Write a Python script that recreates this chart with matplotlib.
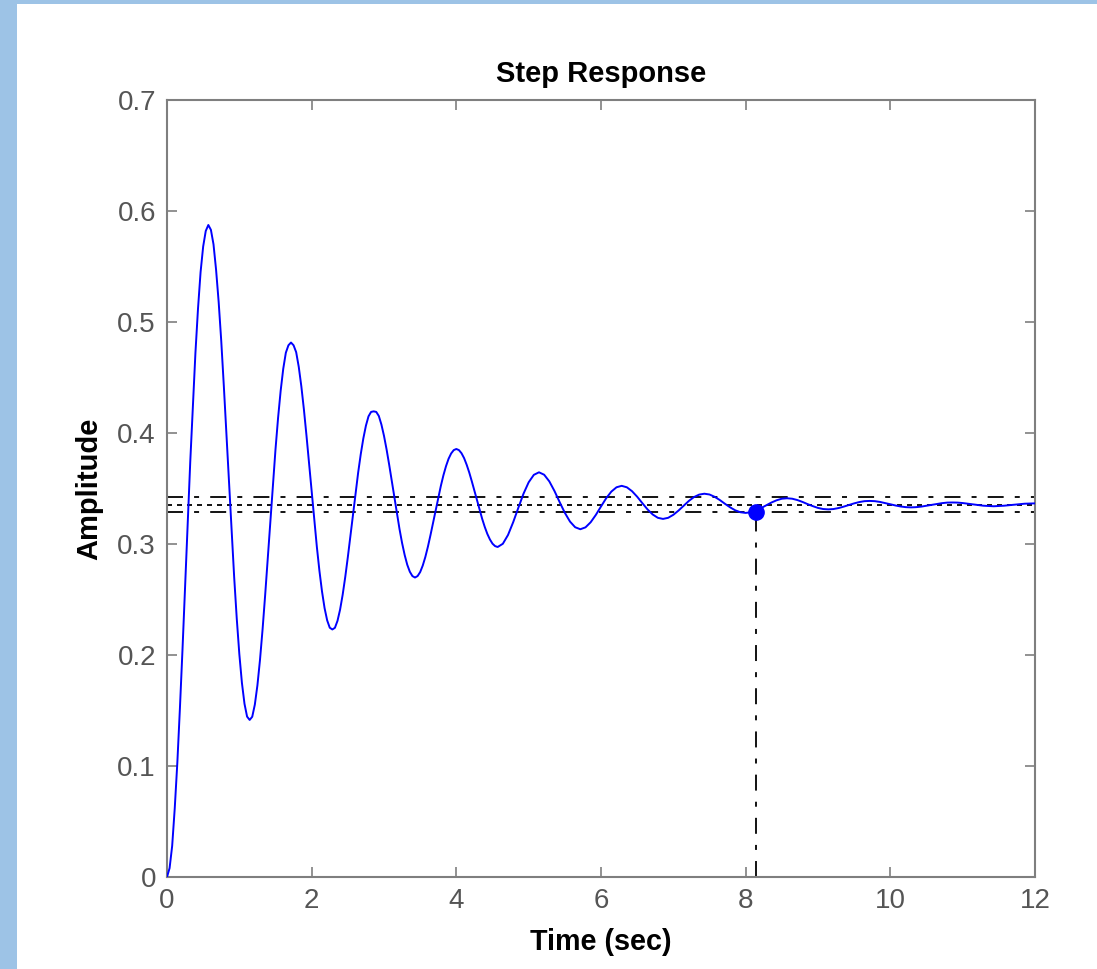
import numpy as np
import matplotlib
matplotlib.use("Agg")
import matplotlib.pyplot as plt
from matplotlib.patches import Rectangle

# ---- data ----
# amplitude sampled every 1/14 s from 0 to 12 s
amplitude = [
    0.0000, 0.0280, 0.1030, 0.2050, 0.3180, 0.4240, 0.5120, 0.5680,
    0.5874, 0.5700, 0.5180, 0.4423, 0.3548, 0.2702, 0.2008, 0.1560,
    0.1415, 0.1553, 0.1957, 0.2541, 0.3208, 0.3853, 0.4381, 0.4723,
    0.4815, 0.4728, 0.4421, 0.3975, 0.3467, 0.2976, 0.2573, 0.2312,
    0.2230, 0.2308, 0.2543, 0.2882, 0.3270, 0.3644, 0.3951, 0.4150,
    0.4195, 0.4153, 0.3974, 0.3715, 0.3420, 0.3135, 0.2901, 0.2750,
    0.2698, 0.2747, 0.2883, 0.3081, 0.3305, 0.3523, 0.3701, 0.3816,
    0.3856, 0.3818, 0.3714, 0.3564, 0.3393, 0.3227, 0.3091, 0.3003,
    0.2973, 0.3002, 0.3081, 0.3196, 0.3326, 0.3453, 0.3556, 0.3623,
    0.3646, 0.3624, 0.3564, 0.3477, 0.3377, 0.3281, 0.3202, 0.3151,
    0.3133, 0.3150, 0.3196, 0.3262, 0.3338, 0.3412, 0.3472, 0.3511,
    0.3524, 0.3511, 0.3476, 0.3426, 0.3368, 0.3312, 0.3266, 0.3236,
    0.3226, 0.3236, 0.3263, 0.3301, 0.3345, 0.3388, 0.3423, 0.3445,
    0.3453, 0.3446, 0.3425, 0.3396, 0.3362, 0.3330, 0.3303, 0.3286,
    0.3280, 0.3286, 0.3301, 0.3324, 0.3349, 0.3374, 0.3394, 0.3408,
    0.3412, 0.3408, 0.3396, 0.3379, 0.3359, 0.3341, 0.3325, 0.3315,
    0.3312, 0.3315, 0.3324, 0.3337, 0.3352, 0.3366, 0.3378, 0.3386,
    0.3388, 0.3386, 0.3379, 0.3369, 0.3358, 0.3347, 0.3338, 0.3332,
    0.3330, 0.3332, 0.3337, 0.3345, 0.3353, 0.3361, 0.3368, 0.3373,
    0.3374, 0.3373, 0.3369, 0.3363, 0.3356, 0.3350, 0.3345, 0.3342,
    0.3340, 0.3342, 0.3345, 0.3349, 0.3354, 0.3359, 0.3363, 0.3365,
    0.3366,
]
# extra readings half-way between the first 64 samples (large oscillations)
amplitude_mid = [
    0.0080, 0.0620, 0.1520, 0.2620, 0.3740, 0.4720, 0.5450, 0.5820,
    0.5830, 0.5470, 0.4829, 0.3991, 0.3113, 0.2329, 0.1749, 0.1445,
    0.1444, 0.1727, 0.2232, 0.2871, 0.3539, 0.4137, 0.4579, 0.4790,
    0.4790, 0.4596, 0.4211, 0.3724, 0.3215, 0.2759, 0.2422, 0.2246,
    0.2245, 0.2409, 0.2703, 0.3074, 0.3462, 0.3809, 0.4066, 0.4190,
    0.4190, 0.4076, 0.3852, 0.3569, 0.3273, 0.3009, 0.2813, 0.2711,
    0.2711, 0.2806, 0.2976, 0.3192, 0.3417, 0.3619, 0.3768, 0.3846,
    0.3846, 0.3774, 0.3644, 0.3479, 0.3308, 0.3154, 0.3041, 0.2981,
]
t_start, t_end = 0.0, 12.0
final_value = 0.3355
upper_bound = 0.3422
lower_bound = 0.3288
settling_time = 8.14
settling_value = 0.3288

x_ticks = [0, 2, 4, 6, 8, 10, 12]
x_tick_labels = ["0", "2", "4", "6", "8", "10", "12"]
y_ticks = [0, 0.1, 0.2, 0.3, 0.4, 0.5, 0.6, 0.7]
y_tick_labels = ["0", "0.1", "0.2", "0.3", "0.4", "0.5", "0.6", "0.7"]

title = "Step Response"
x_label = "Time (sec)"
y_label = "Amplitude"

# ---- sample times ----
t_full = np.linspace(t_start, t_end, len(amplitude))
t_half = (t_full[:-1] + t_full[1:]) / 2
t_mid = t_half[:len(amplitude_mid)]
t_all = np.concatenate([t_full, t_mid])
y_all = np.concatenate([np.asarray(amplitude), np.asarray(amplitude_mid)])
order = np.argsort(t_all, kind="stable")
t_all, y_all = t_all[order], y_all[order]

# ---- figure ----
plt.rcParams["font.family"] = ["Liberation Sans", "DejaVu Sans"]
plt.rcParams["lines.scale_dashes"] = False

W, H = 1097, 969
fig = plt.figure(figsize=(W / 100, H / 100), dpi=100, facecolor="white")
fig.add_artist(Rectangle((0, 0), 17 / W, 1, transform=fig.transFigure,
                         facecolor="#9dc3e6", edgecolor="none", zorder=0))
fig.add_artist(Rectangle((0, 1 - 4 / H), 1, 4 / H, transform=fig.transFigure,
                         facecolor="#9dc3e6", edgecolor="none", zorder=0))

ax = fig.add_axes([167 / W, (H - 877) / H, (1035 - 167) / W, (877 - 100) / H])

dashdot = (0, (11.5, 8.0, 3.6, 8.0))
dotted = (0, (3.6, 3.6))

ax.axhline(upper_bound, color="black", lw=1.3, linestyle=dashdot, zorder=2)
ax.axhline(lower_bound, color="black", lw=1.3, linestyle=dashdot, zorder=2)
ax.axhline(final_value, color="black", lw=1.3, linestyle=dotted, zorder=2)
ax.plot([settling_time, settling_time], [0, settling_value], color="black",
        lw=1.3, linestyle=dashdot, zorder=2)

ax.plot(t_all, y_all, color="#0000ff", lw=1.4, zorder=3)
ax.plot([settling_time], [settling_value], "o", color="#0000ff", ms=11, zorder=4)

ax.set_xlim(0, 12)
ax.set_ylim(0, 0.7)
ax.set_xticks(x_ticks)
ax.set_xticklabels(x_tick_labels)
ax.set_yticks(y_ticks)
ax.set_yticklabels(y_tick_labels)

grey = "#7f7f7f"
for sp in ax.spines.values():
    sp.set_color(grey)
    sp.set_linewidth(1.5)
ax.tick_params(direction="in", length=7, width=1.2, color=grey,
               top=True, right=True, labelsize=20, labelcolor="#555555", pad=8)

ax.set_title(title, fontsize=21, fontweight="bold", pad=13)
ax.set_xlabel(x_label, fontsize=20.7, fontweight="bold", labelpad=10)
ax.set_ylabel(y_label, fontsize=21, fontweight="bold", labelpad=10)

fig.savefig("out.png", dpi=100, facecolor="white")
